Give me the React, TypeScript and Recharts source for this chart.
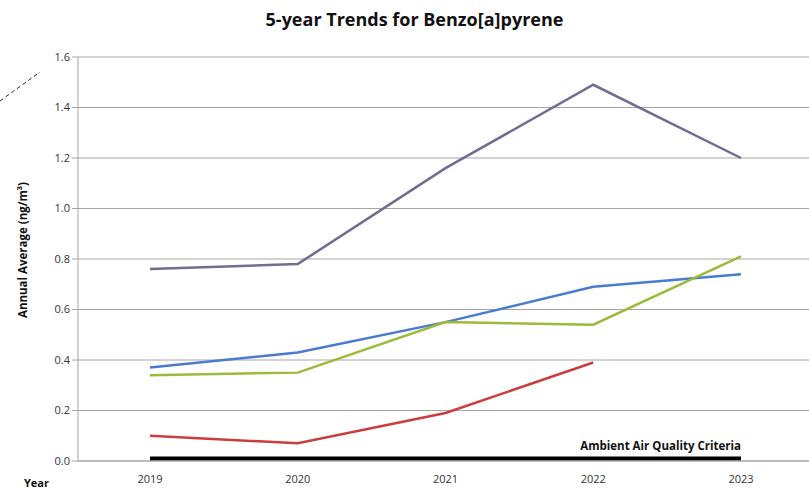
import { LineChart, Line, XAxis, YAxis, CartesianGrid, LabelList } from "recharts";

const years = ["2019", "2020", "2021", "2022", "2023"];
const purple = [0.76, 0.78, 1.16, 1.49, 1.2];
const blue = [0.37, 0.43, 0.55, 0.69, 0.74];
const green = [0.34, 0.35, 0.55, 0.54, 0.81];
const red = [0.1, 0.07, 0.19, 0.39, null];
const criteria = [0.01, 0.01, 0.01, 0.01, 0.01];
const yTicks = [0, 0.2, 0.4, 0.6, 0.8, 1.0, 1.2, 1.4, 1.6];

const data = years.map((year, i) => ({
  year,
  purple: purple[i],
  blue: blue[i],
  green: green[i],
  red: red[i],
  criteria: criteria[i],
}));

const font = "'Open Sans', Lato, sans-serif";

function CriteriaLabel(props: any) {
  const { x, y, index } = props;
  if (index !== years.length - 1) return null;
  return (
    <text x={x} y={y - 8} textAnchor="end" fontSize={11.5} fontWeight="bold" fill="#111" fontFamily={font}>
      Ambient Air Quality Criteria
    </text>
  );
}

export default function App() {
  return (
    <div style={{ position: "absolute", left: 0, top: 0, width: 809, height: 490, overflow: "hidden", background: "#fff", fontFamily: font }}>
      <div style={{ position: "absolute", left: 10, top: 7, width: 809, textAlign: "center", fontSize: 18, fontWeight: "bold", color: "#111" }}>
        5-year Trends for Benzo[a]pyrene
      </div>
      <svg style={{ position: "absolute", left: 0, top: 0 }} width={60} height={120}>
        <line x1={0} y1={101} x2={40} y2={72} stroke="#222" strokeWidth={1} strokeDasharray="4 3" />
      </svg>
      <div
        style={{
          position: "absolute",
          left: 22,
          top: 250,
          transform: "translate(-50%, -50%) rotate(-90deg)",
          whiteSpace: "nowrap",
          fontSize: 11.5,
          fontWeight: "bold",
          color: "#111",
        }}
      >
        Annual Average (ng/m³)
      </div>
      <div style={{ position: "absolute", left: 24, top: 475, fontSize: 11, fontWeight: "bold", color: "#111" }}>Year</div>
      <LineChart width={830} height={490} data={data} margin={{ top: 57, right: 17, left: 28, bottom: 0 }}>
        <CartesianGrid vertical={false} stroke="#a6a6a6" />
        <XAxis
          dataKey="year"
          padding={{ left: 72, right: 72 }}
          height={29}
          axisLine={{ stroke: "#a6a6a6" }}
          tickLine={false}
          tick={{ fontSize: 11, fill: "#333", fontFamily: font }}
          tickMargin={8}
        />
        <YAxis
          domain={[0, 1.6]}
          ticks={yTicks}
          width={50}
          axisLine={{ stroke: "#a6a6a6" }}
          tickLine={{ stroke: "#a6a6a6" }}
          tickSize={6}
          tick={{ fontSize: 11, fill: "#333", fontFamily: font }}
          tickFormatter={(v: number) => v.toFixed(1)}
        />
        <Line dataKey="purple" stroke="#6f6d93" strokeWidth={2.5} dot={false} isAnimationActive={false} />
        <Line dataKey="blue" stroke="#4a7bd0" strokeWidth={2.5} dot={false} isAnimationActive={false} />
        <Line dataKey="green" stroke="#9bbb3b" strokeWidth={2.5} dot={false} isAnimationActive={false} />
        <Line dataKey="red" stroke="#cc3d3d" strokeWidth={2.5} dot={false} isAnimationActive={false} />
        <Line dataKey="criteria" stroke="#000" strokeWidth={4} dot={false} isAnimationActive={false}>
          <LabelList dataKey="criteria" content={<CriteriaLabel />} />
        </Line>
      </LineChart>
    </div>
  );
}
